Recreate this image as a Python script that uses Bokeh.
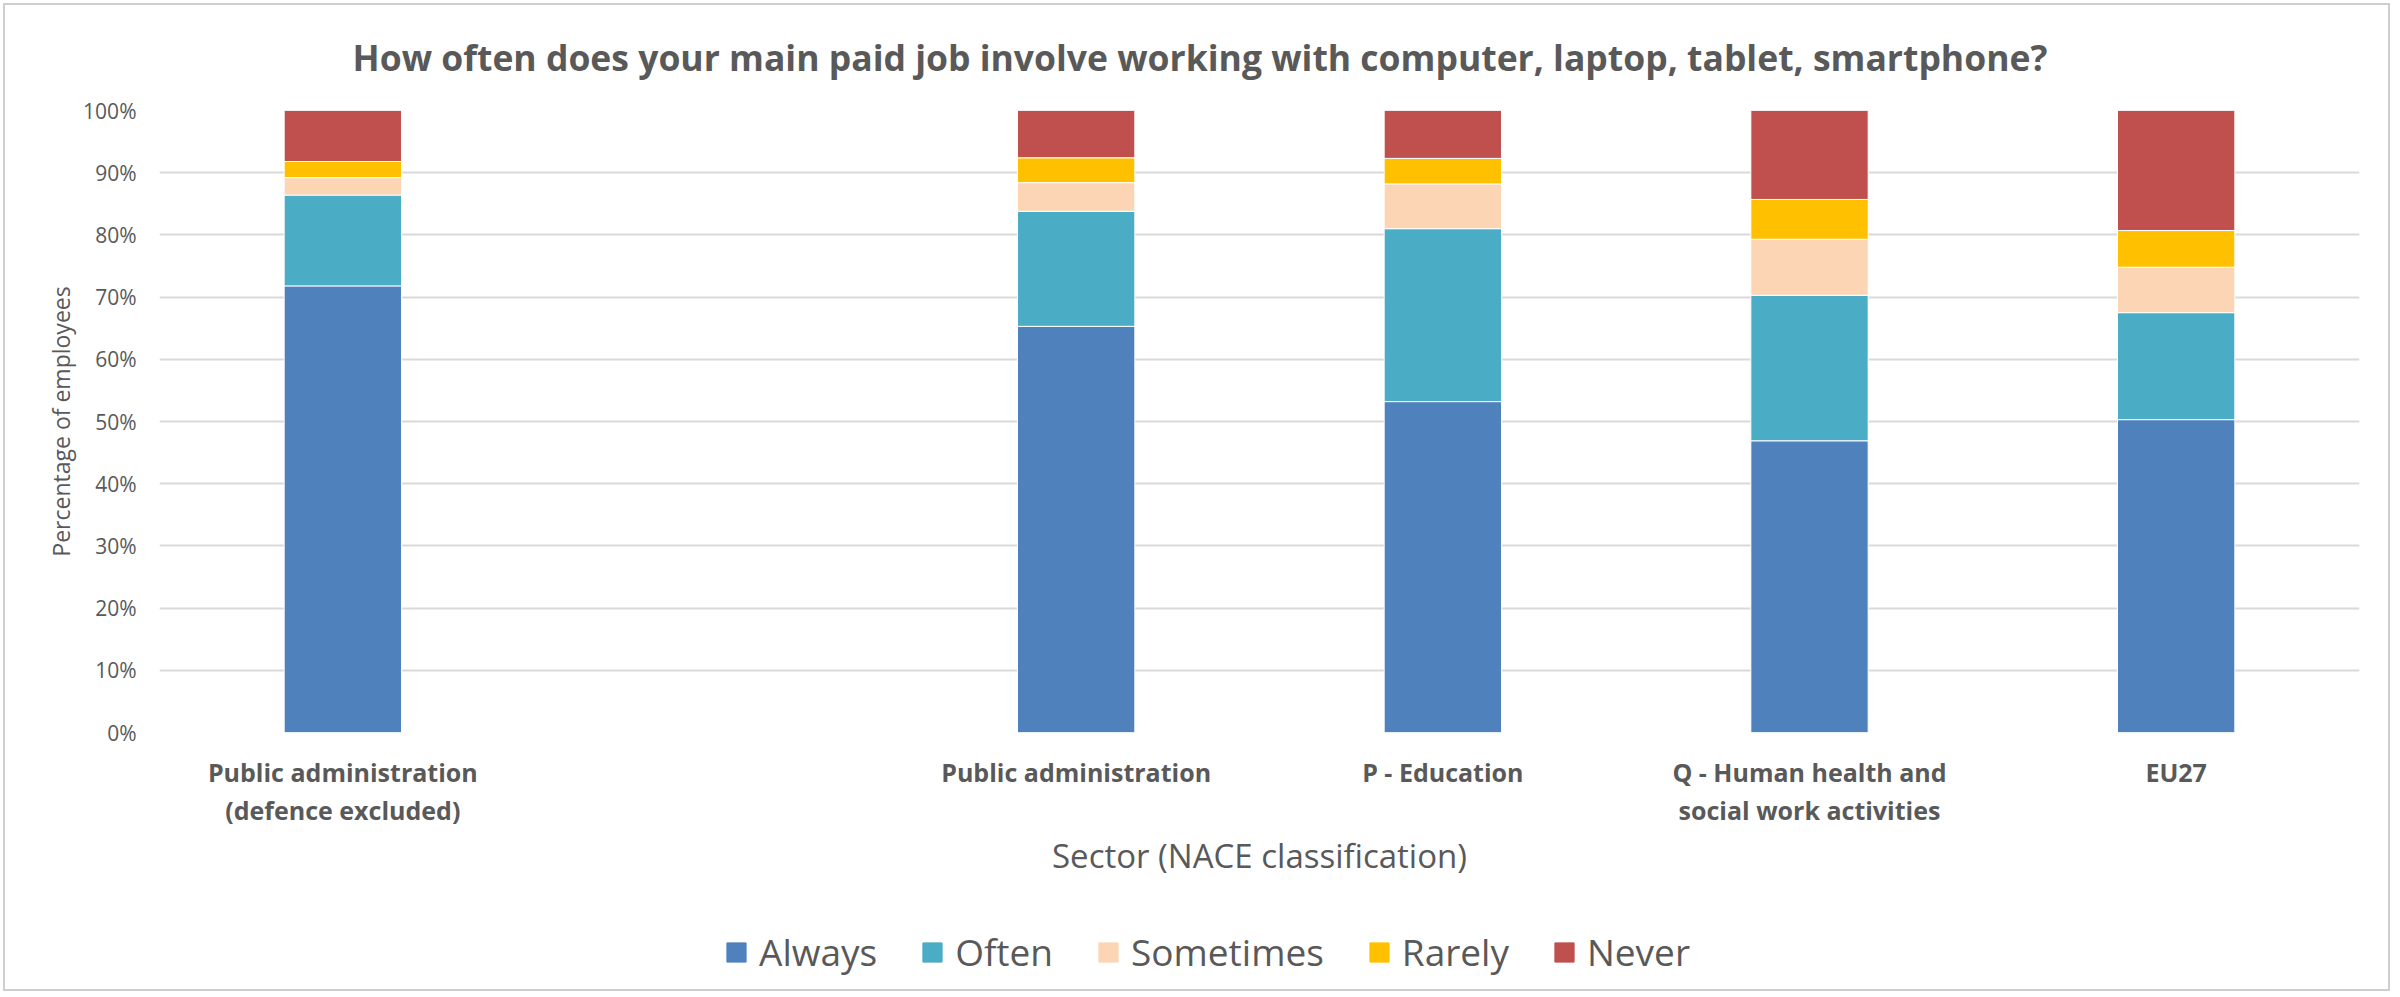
from bokeh.plotting import figure
from bokeh.layouts import column
from bokeh.models import (ColumnDataSource, FactorRange, Legend, LegendItem,
                          PrintfTickFormatter, FixedTicker, Range1d)
from bokeh.embed import file_html
from bokeh.resources import INLINE

# ---- data ----
categories = ["Public administration\n(defence excluded)", " ", "Public administration",
              "P - Education", "Q - Human health and\nsocial work activities", "EU27"]
sectors = ["Public administration\n(defence excluded)", "Public administration",
           "P - Education", "Q - Human health and\nsocial work activities", "EU27"]
series = ["Always", "Often", "Sometimes", "Rarely", "Never"]
always = [71.8, 65.3, 53.2, 46.9, 50.3]
often = [14.6, 18.5, 27.8, 23.4, 17.2]
sometimes = [2.8, 4.6, 7.2, 9.0, 7.3]
rarely = [2.6, 4.0, 4.1, 6.4, 5.9]
never = [8.2, 7.6, 7.7, 14.3, 19.3]
y_ticks = [0, 10, 20, 30, 40, 50, 60, 70, 80, 90, 100]

colors = ["#4F81BD", "#4BACC6", "#FCD5B5", "#FFC000", "#C0504D"]
TXT = "#595959"
FONT = "Open Sans"

source = ColumnDataSource(dict(sector=sectors, Always=always, Often=often,
                               Sometimes=sometimes, Rarely=rarely, Never=never))

p = figure(width=2383, height=910, output_backend="svg", toolbar_location=None,
           x_range=FactorRange(*categories), y_range=Range1d(0, 100),
           min_border_left=154, min_border_right=29, min_border_top=105,
           min_border_bottom=183)
p.outline_line_color = None
p.background_fill_color = "white"
p.border_fill_color = "white"

p.title.text = "How often does your main paid job involve working with computer, laptop, tablet, smartphone?"
p.title.align = "left"
p.title.offset = 193
p.title.vertical_align = "top"
p.title.text_font = FONT
p.title.text_font_style = "bold"
p.title.text_font_size = "35.5px"
p.title.text_color = TXT
p.title.standoff = 55

renderers = p.vbar_stack(series, x="sector", width=0.32, color=colors, source=source,
                         line_color="white", line_width=1)

# axes
p.xaxis.axis_line_color = None
p.xaxis.major_tick_line_color = None
p.xaxis.minor_tick_line_color = None
p.xaxis.major_label_text_font = FONT
p.xaxis.major_label_text_font_style = "bold"
p.xaxis.major_label_text_font_size = "25px"
p.xaxis.major_label_text_color = TXT
p.xaxis.major_label_text_line_height = 1.12
p.xaxis.major_label_standoff = 16
p.xaxis.axis_label = "Sector (NACE classification)"
p.xaxis.axis_label_text_font = FONT
p.xaxis.axis_label_text_font_style = "normal"
p.xaxis.axis_label_text_font_size = "33px"
p.xaxis.axis_label_text_color = TXT
p.xaxis.axis_label_standoff = 3

p.yaxis.ticker = FixedTicker(ticks=y_ticks)
p.yaxis.formatter = PrintfTickFormatter(format="%d%%")
p.yaxis.axis_line_color = None
p.yaxis.major_tick_line_color = None
p.yaxis.minor_tick_line_color = None
p.yaxis.major_label_text_font = FONT
p.yaxis.major_label_text_font_size = "21px"
p.yaxis.major_label_text_color = TXT
p.yaxis.major_label_standoff = 17
p.yaxis.axis_label = "Percentage of employees"
p.yaxis.axis_label_text_font = FONT
p.yaxis.axis_label_text_font_style = "normal"
p.yaxis.axis_label_text_font_size = "23px"
p.yaxis.axis_label_text_color = TXT
p.yaxis.axis_label_standoff = 3

p.xgrid.grid_line_color = None
p.ygrid.grid_line_color = "#d9d9d9"
p.ygrid.grid_line_width = 2

# ---- legend strip below the chart (same series, kept out of view) ----
p2 = figure(width=2383, height=74, output_backend="svg", toolbar_location=None,
            x_axis_location=None, y_axis_location=None,
            x_range=FactorRange(*categories), y_range=Range1d(1000, 1001),
            min_border=0)
p2.outline_line_color = None
p2.xgrid.grid_line_color = None
p2.ygrid.grid_line_color = None
p2.border_fill_color = "white"
p2.background_fill_color = "white"

items = []
for s, c in zip(series, colors):
    r = p2.vbar(x="sector", top=s, width=0.32, color=c, source=source)
    items.append(LegendItem(label=s, renderers=[r]))

legend = Legend(items=items, orientation="horizontal", location=(565, 12))
legend.label_text_font = FONT
legend.label_text_font_size = "37px"
legend.label_text_color = TXT
legend.glyph_width = 24
legend.glyph_height = 24
legend.label_standoff = 11
legend.spacing = 43
legend.border_line_color = None
legend.background_fill_alpha = 0
legend.margin = 0
legend.padding = 0
p2.add_layout(legend, "center")

layout = column(p, p2, spacing=0, margin=(5, 0, 0, 5))
layout.styles = {"outline": "2px solid #cfcfcf"}

open("out.html", "w").write(file_html(layout, INLINE))
